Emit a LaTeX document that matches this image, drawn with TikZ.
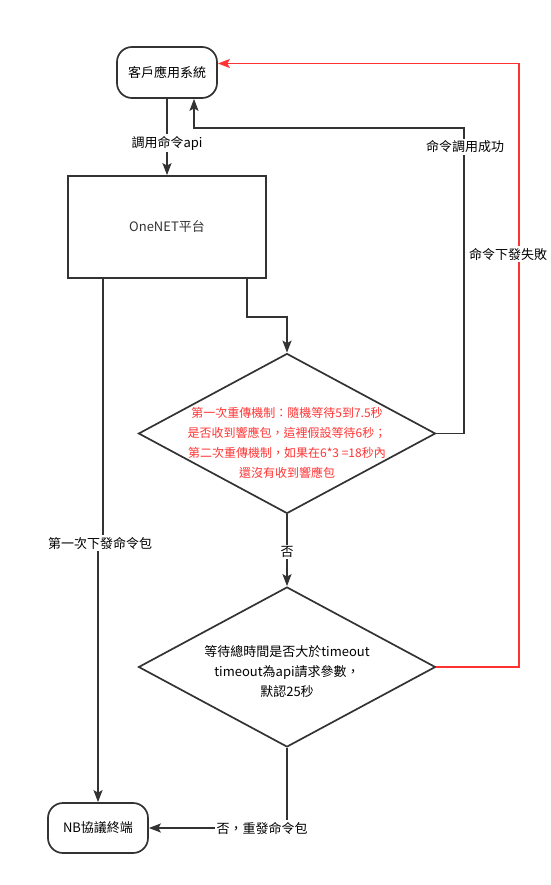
\documentclass[tikz,border=0pt]{standalone}
\usepackage{fontspec}
\setmainfont{Noto Sans CJK TC}
\usepackage{tikz}
\usetikzlibrary{shapes.geometric,arrows.meta}
\definecolor{linegray}{HTML}{333333}
\definecolor{failred}{HTML}{FF3333}

\begin{document}
\begin{tikzpicture}[x=1pt, y=-1pt, line width=1.7pt, color=linegray,
    every node/.style={text=black, font=\fontsize{13pt}{20pt}\selectfont},
    term/.style={draw, rounded corners=15pt, minimum width=100pt, minimum height=51pt},
    decision/.style={draw, diamond, minimum width=297pt, minimum height=160pt, inner sep=0pt},
    lbl/.style={fill=white, inner sep=1.5pt},
    arr/.style={-{Stealth[length=12pt,width=9pt,inset=2.5pt]}}]
    \useasboundingbox (0,0) rectangle (550,885);

    \node[term] (app) at (167,72.5) {客戶應用系統};
    \node[draw, rectangle, minimum width=198pt, minimum height=102pt, text=linegray] (onenet) at (167,227) {OneNET平台};
    \node[decision] (d1) at (287,433.5) {};
    \node[decision] (d2) at (287,667) {};
    \node[term, minimum height=50pt] (nb) at (98,828) {NB協議終端};

    \node[text=failred, align=center, font=\fontsize{12pt}{20pt}\selectfont] (d1text) at ([yshift=-9pt]d1.center)
        {第一次重傳機制：隨機等待5到7.5秒\\是否收到響應包，這裡假設等待6秒；\\第二次重傳機制，如果在6*3 =18秒內\\還沒有收到響應包};
    \node[align=center] (d2text) at ([yshift=-5pt]d2.center)
        {等待總時間是否大於timeout\\timeout為api請求參數，\\默認25秒};

    \coordinate (okturn) at (464,128);
    \coordinate (failturn) at (519,63.5);

    \draw[arr] (app) -- (onenet);
    \draw[arr] ([xshift=80pt]onenet.south) -- ++(0,38) -| (d1.north);
    \draw[arr] (d1.east) -| (okturn) -| ([xshift=27pt]app.south);
    \draw[arr] (d1) -- (d2);
    \draw[arr, failred] (d2.east) -| (failturn) -- ([yshift=9pt]app.east);
    \draw[arr] (d2.south) |- (nb.east);
    \draw[arr] ([xshift=-64pt]onenet.south) -- ++(0,265) -- ++(-5,0) -- (nb.north);

    \node[lbl] (callapi) at (167,143) {調用命令api};
    \node[lbl] (callok) at (465,147) {命令調用成功};
    \node[lbl] (sendfail) at (508,254) {命令下發失敗};
    \node[lbl] (no) at (287,552) {否};
    \node[lbl] (resend) at (262,828) {否，重發命令包};
    \node[lbl] (firstsend) at (100,543) {第一次下發命令包};
\end{tikzpicture}
\end{document}
